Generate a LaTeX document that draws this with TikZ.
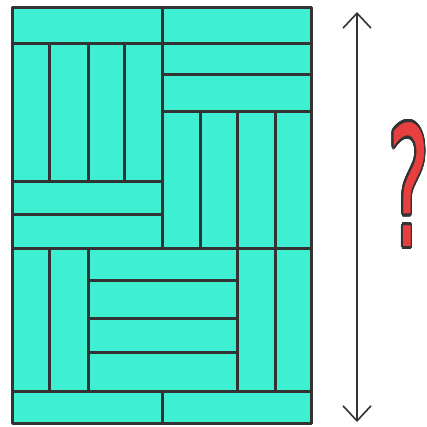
\documentclass[tikz,border=0pt]{standalone}
\usepackage{fontspec}
\usepackage{xcolor}
\usepackage[copies]{contour}
\usetikzlibrary{arrows.meta}
\newfontfamily\qfont{DejaVu Sans}
\definecolor{plankfill}{HTML}{3EEFD2}
\definecolor{inkline}{HTML}{333333}
\definecolor{askred}{HTML}{E8403F}
\contournumber{32}
\contourlength{3pt}

\tikzset{
  plank/.style={fill=plankfill,draw=inkline,line width=3pt,line join=round},
  dimarrow/.style={draw=inkline,line width=1.6pt,
    {Straight Barb[length=15pt,width=28pt]}-{Straight Barb[length=15pt,width=28pt]}},
  askmark/.style={inner sep=0pt,xscale=0.47,transform shape,
    font=\qfont\fontsize{167}{167}\selectfont}
}

\begin{document}
\begin{tikzpicture}[x=1pt,y=-1pt]
  \useasboundingbox (0,0) rectangle (427,426);
  % top row
  \draw[plank] (12,7) rectangle (162,43);
  \draw[plank] (162,7) rectangle (311,43);
  % upper left: four upright planks, two flat ones below
  \foreach \xa/\xb in {12/49,49/88,88/124,124/162}
    \draw[plank] (\xa,43) rectangle (\xb,181);
  \draw[plank] (12,181) rectangle (162,214);
  \draw[plank] (12,214) rectangle (162,248);
  % upper right: two flat planks, four upright ones below
  \draw[plank] (162,43) rectangle (311,74);
  \draw[plank] (162,74) rectangle (311,111);
  \foreach \xa/\xb in {162/200,200/237,237/275,275/311}
    \draw[plank] (\xa,111) rectangle (\xb,248);
  % lower band
  \foreach \xa/\xb in {12/49,49/88,237/275,275/311}
    \draw[plank] (\xa,248) rectangle (\xb,391);
  \foreach \ya/\yb in {248/280,280/318,318/352,352/391}
    \draw[plank] (88,\ya) rectangle (237,\yb);
  % bottom row
  \draw[plank] (12,391) rectangle (162,423);
  \draw[plank] (162,391) rectangle (311,423);
  % height arrow
  \coordinate (htop) at (357,12);
  \coordinate (hbot) at (357,422);
  \draw[dimarrow] (htop) -- (hbot);
  \node[askmark] (ask) at (409,186) {\contour{inkline}{\textcolor{askred}{?}}};
\end{tikzpicture}
\end{document}
